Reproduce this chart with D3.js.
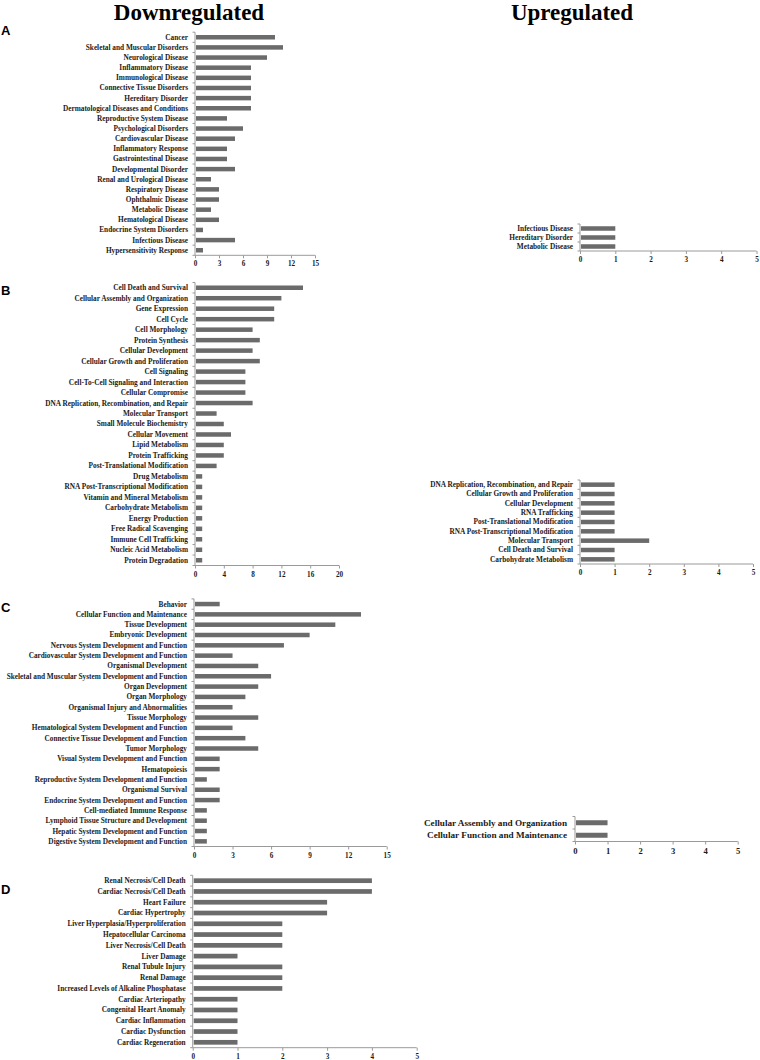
<!DOCTYPE html>
<html><head><meta charset="utf-8">
<script src="https://cdn.jsdelivr.net/npm/d3@7"></script>
<style>body{margin:0;background:#fff}svg{display:block}</style>
</head><body>
<svg id="chart" width="760" height="1060"></svg>
<script>
// ---- Data ----
const catA_down = ["Cancer","Skeletal and Muscular Disorders","Neurological Disease","Inflammatory Disease","Immunological Disease","Connective Tissue Disorders","Hereditary Disorder","Dermatological Diseases and Conditions","Reproductive System Disease","Psychological Disorders","Cardiovascular Disease","Inflammatory Response","Gastrointestinal Disease","Developmental Disorder","Renal and Urological Disease","Respiratory Disease","Ophthalmic Disease","Metabolic Disease","Hematological Disease","Endocrine System Disorders","Infectious Disease","Hypersensitivity Response"];
const valA_down = [10,11,9,7,7,7,7,7,4,6,5,4,4,5,2,3,3,2,3,1,5,1];
const catA_up = ["Infectious Disease","Hereditary Disorder","Metabolic Disease"];
const valA_up = [1,1,1];

const catB_down = ["Cell Death and Survival","Cellular Assembly and Organization","Gene Expression","Cell Cycle","Cell Morphology","Protein Synthesis","Cellular Development","Cellular Growth and Proliferation","Cell Signaling","Cell-To-Cell Signaling and Interaction","Cellular Compromise","DNA Replication, Recombination, and Repair","Molecular Transport","Small Molecule Biochemistry","Cellular Movement","Lipid Metabolism","Protein Trafficking","Post-Translational Modification","Drug Metabolism","RNA Post-Transcriptional Modification","Vitamin and Mineral Metabolism","Carbohydrate Metabolism","Energy Production","Free Radical Scavenging","Immune Cell Trafficking","Nucleic Acid Metabolism","Protein Degradation"];
const valB_down = [15,12,11,11,8,9,8,9,7,7,7,8,3,4,5,4,4,3,1,1,1,1,1,1,1,1,1];
const catB_up = ["DNA Replication, Recombination, and Repair","Cellular Growth and Proliferation","Cellular Development","RNA Trafficking","Post-Translational Modification","RNA Post-Transcriptional Modification","Molecular Transport","Cell Death and Survival","Carbohydrate Metabolism"];
const valB_up = [1,1,1,1,1,1,2,1,1];

const catC_down = ["Behavior","Cellular Function and Maintenance","Tissue Development","Embryonic Development","Nervous System Development and Function","Cardiovascular System Development and Function","Organismal Development","Skeletal and Muscular System Development and Function","Organ Development","Organ Morphology","Organismal Injury and Abnormalities","Tissue Morphology","Hematological System Development and Function","Connective Tissue Development and Function","Tumor Morphology","Visual System Development and Function","Hematopoiesis","Reproductive System Development and Function","Organismal Survival","Endocrine System Development and Function","Cell-mediated Immune Response","Lymphoid Tissue Structure and Development","Hepatic System Development and Function","Digestive System Development and Function"];
const valC_down = [2,13,11,9,7,3,5,6,5,4,3,5,3,4,5,2,2,1,2,2,1,1,1,1];
const catC_up = ["Cellular Assembly and Organization","Cellular Function and Maintenance"];
const valC_up = [1,1];

const catD_down = ["Renal Necrosis/Cell Death","Cardiac Necrosis/Cell Death","Heart Failure","Cardiac Hypertrophy","Liver Hyperplasia/Hyperproliferation","Hepatocellular Carcinoma","Liver Necrosis/Cell Death","Liver Damage","Renal Tubule Injury","Renal Damage","Increased Levels of Alkaline Phosphatase","Cardiac Arteriopathy","Congenital Heart Anomaly","Cardiac Inflammation","Cardiac Dysfunction","Cardiac Regeneration"];
const valD_down = [4,4,3,3,2,2,2,1,2,2,2,1,1,1,1,1];

const ticks15 = [0,3,6,9,12,15];
const ticks20 = [0,4,8,12,16,20];
const ticks5 = [0,1,2,3,4,5];
const columnTitles = ["Downregulated","Upregulated"];
const panelLetters = ["A","B","C","D"];

// ---- Drawing ----
const svg = d3.select("#chart");
const serif = "'Liberation Serif','Times New Roman',serif";
const barColor = "#6b6b6b";
const axisColor = "#9a9a9a";

function panel(cats, vals, ticks, o) {
  const g = svg.append("g");
  const x = d3.scaleLinear().domain([0, d3.max(ticks)]).range([o.x0, o.x1]);
  const y = d3.scalePoint().domain(cats).range([o.y0, o.y1]).padding(0.5);
  const step = y.step();
  const bh = o.bh || 4.5;
  const fs = o.fs || 7.3;
  const tfs = o.tfs || 7.2;
  // bars
  g.selectAll("rect").data(cats).join("rect")
    .attr("x", x(0) + 1)
    .attr("y", d => y(d) - bh / 2)
    .attr("width", (d, i) => Math.max(0, x(vals[i]) - x(0) - 1))
    .attr("height", bh)
    .attr("fill", barColor);
  // category labels
  g.selectAll("text.cat").data(cats).join("text")
    .attr("class", "cat")
    .attr("x", x(0) - (o.lo || 7))
    .attr("y", d => y(d))
    .attr("dy", "0.34em")
    .attr("text-anchor", "end")
    .style("font-family", serif).style("font-weight", "bold")
    .style("font-size", fs + "px").attr("fill", "#1a1a1a")
    .text(d => d);
  // y axis line and boundary ticks
  g.append("line").attr("x1", x(0)).attr("x2", x(0)).attr("y1", o.y0).attr("y2", o.y1)
    .attr("stroke", axisColor).attr("stroke-width", 1);
  const bounds = d3.range(cats.length + 1).map(i => o.y0 + i * step);
  g.selectAll("line.yt").data(bounds).join("line").attr("class", "yt")
    .attr("x1", x(0) - 2.5).attr("x2", x(0)).attr("y1", d => d).attr("y2", d => d)
    .attr("stroke", axisColor);
  // x axis
  const xa = g.append("g").attr("transform", `translate(0,${o.y1})`)
    .call(d3.axisBottom(x).tickValues(ticks).tickSize(3).tickPadding(3).tickFormat(d3.format("d")));
  xa.select(".domain").attr("stroke", axisColor).attr("d", `M${o.x0},0H${o.x1}`);
  xa.selectAll(".tick line").attr("stroke", axisColor);
  xa.selectAll(".tick text").attr("fill", "#1a1a1a")
    .style("font-family", serif).style("font-weight", "bold").style("font-size", tfs + "px");
}

panel(catA_down, valA_down, ticks15, {x0:195, x1:315, y0:32.2, y1:255.3});
panel(catA_up, valA_up, ticks5, {x0:580, x1:756.5, y0:224, y1:251});
panel(catB_down, valB_down, ticks20, {x0:195, x1:339, y0:282.5, y1:565.5});
panel(catB_up, valB_up, ticks5, {x0:580, x1:753, y0:480, y1:564});
panel(catC_down, valC_down, ticks15, {x0:194, x1:386.7, y0:598.9, y1:846.5});
panel(catC_up, valC_up, ticks5, {x0:575, x1:737.7, y0:816.5, y1:841.5, fs:9.2, tfs:8.6, lo:8, bh:5});
panel(catD_down, valD_down, ticks5, {x0:192.7, x1:416.7, y0:875.3, y1:1047.7, bh:4.7});

// column titles
svg.selectAll("text.title").data(columnTitles).join("text").attr("class","title")
  .attr("x", (d,i) => [189, 572][i]).attr("y", 20)
  .attr("text-anchor", "middle")
  .style("font-family", serif).style("font-weight", "bold").style("font-size", "23px")
  .attr("fill", "#000").text(d => d);

// panel letters
svg.selectAll("text.letter").data(panelLetters).join("text").attr("class","letter")
  .attr("x", 1).attr("y", (d,i) => [35, 295, 612, 894][i])
  .style("font-family", "'Liberation Sans',Arial,sans-serif").style("font-weight", "bold")
  .style("font-size", "13px").attr("fill", "#000").text(d => d);
</script>
</body></html>
